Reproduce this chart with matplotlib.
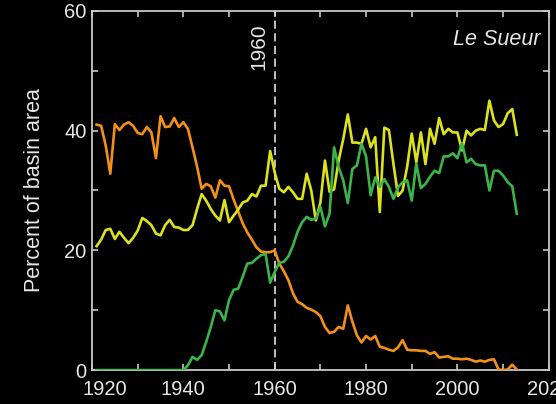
import numpy as np
import matplotlib
matplotlib.use("Agg")
import matplotlib.pyplot as plt
import matplotlib.transforms as mtransforms
from matplotlib.ticker import MultipleLocator

plt.rcParams['font.family'] = ['Liberation Sans', 'DejaVu Sans']

years = list(range(1921, 2014))

# Share of basin area by land-cover class (percent)
orange = [41.0, 40.8, 37.5, 32.8, 41.1, 40.1, 41.0, 41.4, 40.8, 39.6,
          39.4, 40.6, 39.7, 35.4, 42.4, 40.6, 40.7, 42.1, 40.6, 41.4,
          40.3, 37.2, 34.0, 30.3, 31.1, 30.7, 28.8, 31.7, 30.8, 30.7,
          28.5, 26.5, 24.5, 23.0, 21.8, 20.5, 19.8, 19.7, 19.7, 20.0,
          17.8, 16.5, 15.0, 12.8, 11.4, 11.0, 10.4, 10.1, 9.7, 9.0,
          7.2, 6.2, 6.4, 7.2, 6.9, 10.8, 8.1, 5.8, 4.6, 5.7,
          5.1, 5.7, 3.9, 3.7, 3.4, 3.2, 3.8, 5.0, 3.4, 3.3,
          3.3, 3.2, 3.2, 2.7, 3.0, 2.1, 2.2, 2.3, 1.9, 1.9,
          1.8, 1.9, 1.7, 1.4, 1.6, 1.4, 1.7, 1.8, 0.1, 0.0,
          0.1, 0.9, 0.1]

yellow = [20.7, 21.8, 23.4, 23.6, 21.9, 23.1, 22.1, 21.2, 22.1, 23.3,
          25.4, 24.9, 24.2, 22.8, 22.5, 24.2, 25.1, 23.9, 23.8, 23.4,
          23.4, 24.2, 26.9, 29.4, 28.3, 26.9, 25.8, 25.0, 28.4, 24.7,
          25.8, 26.8, 28.0, 28.3, 29.4, 29.0, 30.8, 30.8, 36.6, 33.0,
          30.3, 29.7, 30.6, 29.7, 28.6, 28.6, 32.8, 30.0, 25.0, 28.0,
          35.0, 29.8, 30.2, 35.0, 38.6, 42.7, 38.0, 38.0, 37.8, 40.3,
          37.2, 38.9, 26.4, 40.5, 40.1, 34.4, 29.1, 30.0, 34.0, 39.5,
          34.7, 39.7, 34.4, 40.3, 37.8, 42.1, 39.4, 40.3, 39.7, 39.7,
          36.7, 40.0, 39.2, 40.0, 40.3, 40.1, 45.0, 41.7, 40.6, 41.1,
          42.9, 43.6, 39.3]

green = [0.0] * 20 + [
          0.8, 2.2, 1.7, 2.5, 4.7, 7.2, 10.0, 9.8, 8.3, 11.7,
          13.4, 13.6, 15.6, 17.8, 17.9, 18.6, 19.2, 19.4, 14.6, 16.4,
          17.9, 18.1, 19.0, 20.8, 23.1, 24.7, 25.6, 25.1, 25.3, 27.3,
          24.0, 26.1, 37.2, 33.9, 31.7, 27.9, 33.6, 34.2, 37.8, 35.7,
          29.2, 32.2, 30.6, 31.9, 30.6, 28.6, 30.5, 31.4, 31.7, 28.3,
          34.5, 30.4, 31.1, 32.3, 33.3, 32.9, 35.7, 35.7, 36.2, 35.4,
          37.9, 34.7, 35.3, 34.4, 34.2, 34.2, 30.0, 33.3, 33.3, 32.5,
          31.4, 30.7, 26.1]

x_ticks = [1920, 1940, 1960, 1980, 2000, 2020]
y_ticks = [0, 20, 40, 60]
marker_year = 1960
basin_name = "Le Sueur"

fg = '#e6e6e6'
spine_c = '#c8c8c8'

fig = plt.figure(figsize=(5.56, 4.04), dpi=100, facecolor='black')
ax = fig.add_axes([0.1655, 0.084, 0.8215, 0.889], facecolor='black')

ax.plot(years, orange, color='#F39019', lw=1.9, solid_joinstyle='round', zorder=3)
ax.plot(years, yellow, color='#DCE21E', lw=1.9, solid_joinstyle='round', zorder=3)
ax.plot(years, green, color='#3BB44A', lw=1.9, solid_joinstyle='round', zorder=4)

ax.axvline(marker_year, color='#d0d0d0', lw=1.3, ls=(0, (4.5, 2.5)), zorder=2)
ax.annotate(str(marker_year), xy=(marker_year, 57.9), xytext=(-4.5, 0),
            textcoords='offset points', rotation=90, ha='right', va='top',
            color=fg, fontsize=15)
ax.text(0.982, 0.95, basin_name, transform=ax.transAxes, ha='right', va='top',
        color=fg, fontsize=15.5, style='italic')

ax.set_xlim(1920, 2020)
ax.set_ylim(0, 60)
ax.set_xticks(x_ticks, [str(v) for v in x_ticks])
ax.set_yticks(y_ticks, [str(v) for v in y_ticks])
ax.xaxis.set_minor_locator(MultipleLocator(10))
ax.yaxis.set_minor_locator(MultipleLocator(10))
ax.tick_params(which='both', direction='in', length=4, width=1.2, color=spine_c,
               labelcolor=fg, labelsize=14.5, top=True, right=True, pad=4)
ax.tick_params(axis='x', which='major', pad=7)
for s in ax.spines.values():
    s.set_color(spine_c)
    s.set_linewidth(1.3)

# nudge the first year label clear of the zero label
first = ax.get_xticklabels()[0]
first.set_transform(first.get_transform() +
                    mtransforms.ScaledTranslation(13 / 100, 0, fig.dpi_scale_trans))

ax.set_ylabel("Percent of basin area", color=fg, fontsize=15.5, labelpad=14)

fig.savefig('out.png', dpi=100, facecolor='black')
